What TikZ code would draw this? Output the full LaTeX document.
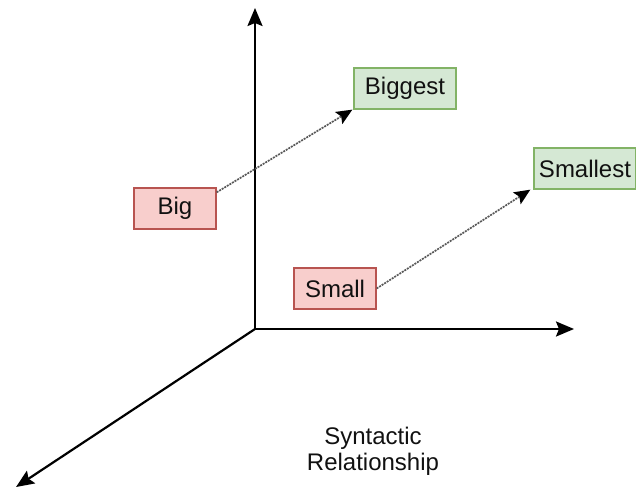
\documentclass[tikz,border=0pt]{standalone}
\usepackage{fontspec}
\setmainfont{Liberation Sans}
\usetikzlibrary{arrows.meta}
\definecolor{redfill}{HTML}{F8CECC}
\definecolor{redline}{HTML}{B85450}
\definecolor{greenfill}{HTML}{D5E8D4}
\definecolor{greenline}{HTML}{82B366}
\definecolor{txt}{HTML}{111111}
\begin{document}
\begin{tikzpicture}[x=1pt,y=-1pt,
  every node/.style={font=\fontsize{24}{26}\selectfont, text=txt},
  redbox/.style={draw=redline, fill=redfill, line width=1.3pt, minimum width=82pt, minimum height=41pt, inner sep=0pt},
  greenbox/.style={draw=greenline, fill=greenfill, line width=1.3pt, minimum width=102pt, minimum height=41pt, inner sep=0pt},
  axis/.style={line width=2.2pt, black, -{Stealth[length=18pt,width=15pt,inset=3pt]}},
  link/.style={line width=1.7pt, black!65, dash pattern=on 2pt off 1pt, -{Stealth[length=16pt,width=14pt,inset=3pt,black]}}
]
\useasboundingbox (0,0) rectangle (636,490);
\coordinate (o) at (255,329);
\coordinate (up) at (255,8);
\coordinate (right) at (574,329);
\coordinate (diag) at (16,487);
\draw[axis] (o) -- (up);
\draw[axis] (o) -- (right);
\draw[axis] (o) -- (diag);
\node[redbox] (big) at (175,208.5) {Big};
\node[greenbox] (biggest) at (405,88.5) {Biggest};
\node[redbox] (small) at (335,288.5) {Small};
\node[greenbox] (smallest) at (585,168.5) {Smallest};
\draw[link] ([yshift=-5pt]big.north east) -- ([xshift=-1pt]biggest.south west);
\draw[link] (small.east) -- ([xshift=-3pt]smallest.south west);
\node[align=center] (label) at (373,451) {Syntactic\\Relationship};
\end{tikzpicture}
\end{document}
